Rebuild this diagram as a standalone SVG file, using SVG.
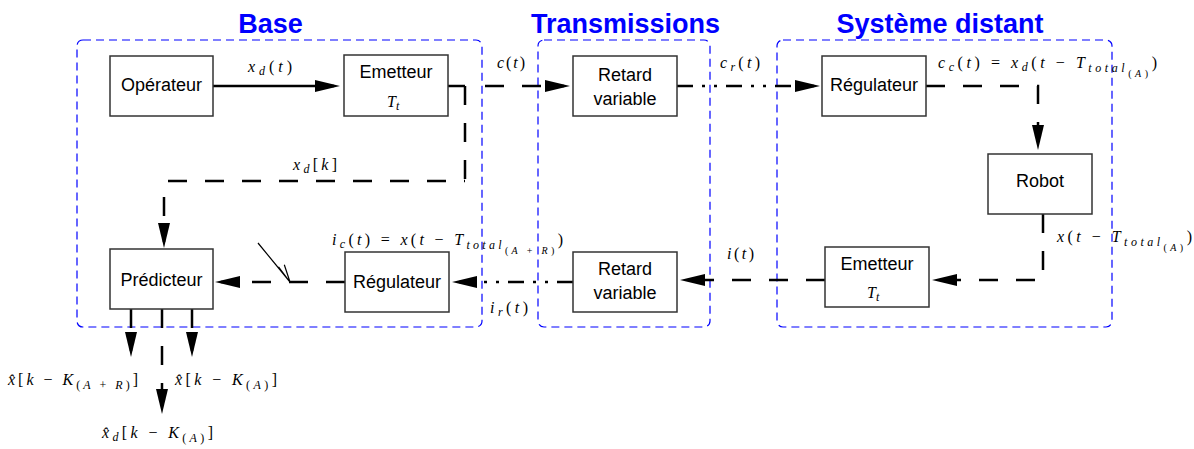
<svg xmlns="http://www.w3.org/2000/svg" width="1194" height="449" viewBox="0 0 1194 449">
<style>
.box{fill:#fff;stroke:#333;stroke-width:1.5}
.lbl{font-family:"Liberation Sans",Arial,sans-serif;font-size:18px;text-anchor:middle;fill:#000}
.title{font-family:"Liberation Sans",Arial,sans-serif;font-weight:bold;font-size:27px;fill:#0000ff;text-anchor:middle}
.cont{fill:none;stroke:#0000ff;stroke-width:1.2;stroke-dasharray:8 5}
.m{font-family:"Liberation Serif","DejaVu Serif",serif;font-size:16px;fill:#000}
.v{font-style:italic}
.s{font-size:12px}
.ss{font-size:10px}
.ln{fill:none;stroke:#000;stroke-width:2.5}
.dash{stroke-dasharray:19 18}
.dd{stroke-dasharray:16 9 3 9 3 9}
.thin{fill:none;stroke:#000;stroke-width:1.2}
</style>
<defs>
<marker id="arr" markerUnits="userSpaceOnUse" markerWidth="25" markerHeight="14" viewBox="0 0 25 14" refX="19" refY="7" orient="auto">
<path d="M0,1 L25,7 L0,13 Z" fill="#000"/>
</marker>
</defs>

<g id="containers">
<rect class="cont" x="77" y="40" width="405" height="287" rx="6"/>
<rect class="cont" x="538" y="40" width="172" height="287" rx="6"/>
<rect class="cont" x="777" y="40" width="335" height="287" rx="6"/>
<text class="title" x="270.5" y="33">Base</text>
<text class="title" x="625.5" y="33">Transmissions</text>
<text class="title" x="940" y="33">Système distant</text>
</g>

<g id="connectors">
<path class="ln" d="M213,86 H334" marker-end="url(#arr)"/>
<path class="ln" d="M448,86 H465"/>
<path class="ln dash" d="M465,86 V181"/>
<path class="ln dash" d="M168,181 H465"/>
<path class="ln dash" style="stroke-dashoffset:21" d="M164,181 V242" marker-end="url(#arr)"/>
<path class="ln dash" style="stroke-dashoffset:19" d="M467,86 H564" marker-end="url(#arr)"/>
<path class="ln dd" d="M677,86 H814" marker-end="url(#arr)"/>
<path class="ln dash" d="M926,86 H1038 V144" marker-end="url(#arr)"/>
<path class="ln dash" d="M1043,214 V280 H938" marker-end="url(#arr)"/>
<path class="ln dash" d="M825,280 H686" marker-end="url(#arr)"/>
<path class="ln dd" d="M573,282 H458" marker-end="url(#arr)"/>
<path class="ln dash" d="M345,282 H221" marker-end="url(#arr)"/>
<path class="thin" d="M258,243 L290,282 M290,282 L278.5,266.8 M290,282 L284.3,264.7"/>
<path class="ln dash" d="M131,309 V351" marker-end="url(#arr)"/>
<path class="ln dash" d="M192,309 V351" marker-end="url(#arr)"/>
<path class="ln dash" d="M162,309 V408" marker-end="url(#arr)"/>
</g>

<g id="operateur">
<rect class="box" x="110" y="56" width="103" height="60"/>
<text class="lbl" x="161.5" y="91">Opérateur</text>
</g>
<g id="emetteur-base">
<rect class="box" x="344" y="55" width="104" height="61"/>
<text class="lbl" x="396" y="78">Emetteur</text>
<text class="m" x="387" y="107"><tspan class="v">T</tspan><tspan class="v s" dy="3">t</tspan></text>
</g>
<g id="retard-haut">
<rect class="box" x="573" y="56" width="104" height="60"/>
<text class="lbl" x="625" y="81">Retard</text>
<text class="lbl" x="625" y="105">variable</text>
</g>
<g id="regulateur-distant">
<rect class="box" x="822" y="56" width="104" height="60"/>
<text class="lbl" x="874" y="91">Régulateur</text>
</g>
<g id="robot">
<rect class="box" x="988" y="154" width="104" height="60"/>
<text class="lbl" x="1040" y="187">Robot</text>
</g>
<g id="emetteur-distant">
<rect class="box" x="825" y="247" width="104" height="60"/>
<text class="lbl" x="877" y="270">Emetteur</text>
<text class="m" x="867" y="298"><tspan class="v">T</tspan><tspan class="v s" dy="3">t</tspan></text>
</g>
<g id="retard-bas">
<rect class="box" x="573" y="252" width="104" height="60"/>
<text class="lbl" x="625" y="275">Retard</text>
<text class="lbl" x="625" y="299">variable</text>
</g>
<g id="regulateur-base">
<rect class="box" x="345" y="252" width="104" height="60"/>
<text class="lbl" x="397" y="288">Régulateur</text>
</g>
<g id="predicteur">
<rect class="box" x="110" y="249" width="103" height="60"/>
<text class="lbl" x="161.5" y="286">Prédicteur</text>
</g>

<g id="labels">
<text class="m" x="248" y="72" textLength="44"><tspan class="v">x</tspan><tspan class="v s" dy="3">d</tspan><tspan dy="-3">(</tspan><tspan class="v">t</tspan>)</text>
<text class="m" x="293" y="170" textLength="44"><tspan class="v">x</tspan><tspan class="v s" dy="3">d</tspan><tspan dy="-3">[</tspan><tspan class="v">k</tspan>]</text>
<text class="m" x="497" y="68" textLength="28"><tspan class="v">c</tspan>(<tspan class="v">t</tspan>)</text>
<text class="m" x="720" y="68" textLength="40"><tspan class="v">c</tspan><tspan class="v s" dy="3">r</tspan><tspan dy="-3">(</tspan><tspan class="v">t</tspan>)</text>
<text class="m" x="938" y="68" textLength="219"><tspan class="v">c</tspan><tspan class="v s" dy="3">c</tspan><tspan dy="-3">(</tspan><tspan class="v">t</tspan>) = <tspan class="v">x</tspan><tspan class="v s" dy="3">d</tspan><tspan dy="-3">(</tspan><tspan class="v">t</tspan> − <tspan class="v">T</tspan><tspan class="v s" dy="4">total</tspan><tspan class="ss" dy="5">(</tspan><tspan class="v ss">A</tspan><tspan class="ss">)</tspan><tspan dy="-9">)</tspan></text>
<text class="m" x="1057" y="242" textLength="135"><tspan class="v">x</tspan>(<tspan class="v">t</tspan> − <tspan class="v">T</tspan><tspan class="v s" dy="4">total</tspan><tspan class="ss" dy="5">(</tspan><tspan class="v ss">A</tspan><tspan class="ss">)</tspan><tspan dy="-9">)</tspan></text>
<text class="m" x="727" y="259" textLength="27"><tspan class="v">i</tspan>(<tspan class="v">t</tspan>)</text>
<text class="m" x="332" y="245" textLength="231"><tspan class="v">i</tspan><tspan class="v s" dy="3">c</tspan><tspan dy="-3">(</tspan><tspan class="v">t</tspan>) = <tspan class="v">x</tspan>(<tspan class="v">t</tspan> − <tspan class="v">T</tspan><tspan class="v s" dy="4">total</tspan><tspan class="ss" dy="5">(</tspan><tspan class="v ss">A</tspan><tspan class="ss"> + </tspan><tspan class="v ss">R</tspan><tspan class="ss">)</tspan><tspan dy="-9">)</tspan></text>
<text class="m" x="490" y="313" textLength="38"><tspan class="v">i</tspan><tspan class="v s" dy="3">r</tspan><tspan dy="-3">(</tspan><tspan class="v">t</tspan>)</text>
<text class="m" x="8" y="385" textLength="130"><tspan class="v">x̂</tspan>[<tspan class="v">k</tspan> − <tspan class="v">K</tspan><tspan class="s" dy="4">(</tspan><tspan class="v s">A</tspan><tspan class="s"> + </tspan><tspan class="v s">R</tspan><tspan class="s">)</tspan><tspan dy="-4">]</tspan></text>
<text class="m" x="175" y="385" textLength="102"><tspan class="v">x̂</tspan>[<tspan class="v">k</tspan> − <tspan class="v">K</tspan><tspan class="s" dy="4">(</tspan><tspan class="v s">A</tspan><tspan class="s">)</tspan><tspan dy="-4">]</tspan></text>
<text class="m" x="102" y="438" textLength="111"><tspan class="v">x̂</tspan><tspan class="v s" dy="3">d</tspan><tspan dy="-3">[</tspan><tspan class="v">k</tspan> − <tspan class="v">K</tspan><tspan class="s" dy="4">(</tspan><tspan class="v s">A</tspan><tspan class="s">)</tspan><tspan dy="-4">]</tspan></text>
</g>
</svg>
